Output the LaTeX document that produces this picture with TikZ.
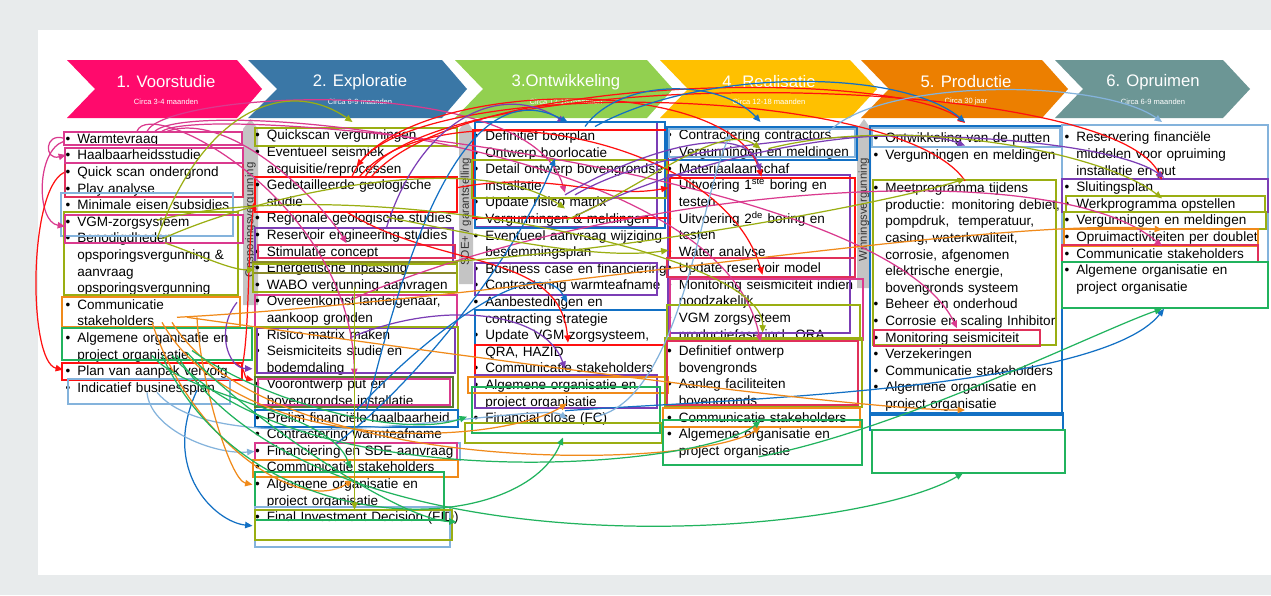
\documentclass[tikz,border=0pt]{standalone}
\usepackage{fontspec}
\setmainfont{Liberation Sans}
\usetikzlibrary{arrows.meta,calc}
\definecolor{bgout}{HTML}{E8EBEC}
\definecolor{hp}{HTML}{FF0A6C}
\definecolor{hb}{HTML}{3A77A6}
\definecolor{hg}{HTML}{92D050}
\definecolor{hy}{HTML}{FFC000}
\definecolor{ho}{HTML}{EC7F00}
\definecolor{ht}{HTML}{6C9695}
\definecolor{barg}{HTML}{C4C4C4}
\definecolor{mag}{HTML}{DA3A8E}
\definecolor{olv}{HTML}{9AAE12}
\definecolor{rd}{HTML}{FF1010}
\definecolor{pur}{HTML}{7B3DB5}
\definecolor{blu}{HTML}{1270C4}
\definecolor{lbl}{HTML}{84B3DC}
\definecolor{org}{HTML}{F08A1A}
\definecolor{grn}{HTML}{21B35E}
\definecolor{crm}{HTML}{E0305A}
\definecolor{dol}{HTML}{8A8A2A}
\definecolor{dgr}{HTML}{557A2F}
\newcommand\itf{\fontsize{7.7pt}{9.45pt}\selectfont}
\newcommand\bul{\noindent\strut\llap{\textbullet\hspace{0.14cm}}}
\begin{document}
\begin{tikzpicture}[x=0.02cm,y=-0.02cm,
  item/.style={anchor=north west,inner sep=0pt,text width=5cm,align=left,font=\itf,text=black},
  htitle/.style={text=white,font=\fontsize{9.5pt}{11pt}\selectfont,inner sep=0pt},
  hsub/.style={text=white,font=\fontsize{4.3pt}{5pt}\selectfont,inner sep=0pt},
  vtext/.style={rotate=90,text=black!80,font=\fontsize{6.5pt}{7pt}\selectfont,inner sep=0pt},
  thin/.style={line width=0.6pt},
  thk/.style={line width=1.4pt},
  arr/.style={-{Triangle[length=4.2pt,width=3.6pt]},line width=0.7pt}]
\useasboundingbox (0,0) rectangle (1271,595);
\fill[bgout] (0,0) rectangle (1271,595);
\fill[white] (38,30) rectangle (1271,575);
% headers
\fill[hp] (67,60) -- (237,60) -- (262,89) -- (237,118) -- (67,118) -- (95,89) -- cycle;
\fill[hb] (248,60) -- (442,60) -- (467,89) -- (442,118) -- (248,118) -- (277,89) -- cycle;
\fill[hg] (455,60) -- (647,60) -- (673,89) -- (647,118) -- (455,118) -- (483,89) -- cycle;
\fill[hy] (660,60) -- (850,60) -- (877,89) -- (850,118) -- (660,118) -- (688,89) -- cycle;
\fill[ho] (861,60) -- (1042,60) -- (1068,89) -- (1042,118) -- (861,118) -- (889,89) -- cycle;
\fill[ht] (1055,60) -- (1223,60) -- (1250,89) -- (1223,118) -- (1055,118) -- (1083,89) -- cycle;
\node[htitle] (h1) at (166,82) {1. Voorstudie};
\node[hsub] (s1) at (166,102) {Circa 3-4 maanden};
\node[htitle] (h2) at (360,82) {2. Exploratie};
\node[hsub] (s2) at (360,102) {Circa 6-9 maanden};
\node[htitle] (h3) at (566,82) {3.Ontwikkeling};
\node[hsub] (s3) at (566,102) {Circa 12-18 maanden};
\node[htitle] (h4) at (769,82) {4. Realisatie};
\node[hsub] (s4) at (769,102) {Circa 12-18 maanden};
\node[htitle] (h5) at (966,82) {5. Productie};
\node[hsub] (s5) at (966,102) {Circa 30 jaar};
\node[htitle] (h6) at (1153,82) {6. Opruimen};
\node[hsub] (s6) at (1153,102) {Circa 6-9 maanden};
% gray bars
\fill[barg] (243,129) -- (250.5,119) -- (258,129) -- (258,305) -- (243,305) -- cycle;
\fill[barg] (459,130) -- (466,120) -- (473,130) -- (473,284) -- (459,284) -- cycle;
\fill[barg] (857,129) -- (864,119) -- (871,129) -- (871,288) -- (857,288) -- cycle;
\node[vtext] (v1) at (250.5,220) {Opsporingsvergunning};
\node[vtext] (v2) at (466,212) {SDE+ / garantstelling};
\node[vtext] (v3) at (864,210) {Winningsvergunning};
% column 1
\node[item] (c1a) at (77,131.3) {\bul Warmtevraag};
\node[item] (c1b) at (77,147.9) {\bul Haalbaarheidsstudie};
\node[item] (c1c) at (77,164.5) {\bul Quick scan ondergrond};
\node[item] (c1d) at (77,181.1) {\bul Play analyse};
\node[item] (c1e) at (77,197.7) {\bul Minimale eisen subsidies};
\node[item] (c1f) at (77,214.3) {\bul VGM-zorgsysteem};
\node[item] (c1g) at (77,230.9) {\bul Benodigdheden\newline opsporingsvergunning \&\newline aanvraag\newline opsporingsvergunning};
\node[item] (c1h) at (77,297.3) {\bul Communicatie\newline stakeholders};
\node[item] (c1i) at (77,330.5) {\bul Algemene organisatie en\newline project organisatie};
\node[item] (c1j) at (77,363.7) {\bul Plan van aanpak vervolg};
\node[item] (c1k) at (77,380.3) {\bul Indicatief businessplan};
% column 2
\node[item] (c2a) at (266.5,128) {\bul Quickscan vergunningen};
\node[item] (c2b) at (266.5,144.6) {\bul Eventueel seismiek\newline acquisitie/reprocessen};
\node[item] (c2c) at (266.5,177.8) {\bul Gedetailleerde geologische\newline studie};
\node[item] (c2d) at (266.5,211) {\bul Regionale geologische studies};
\node[item] (c2e) at (266.5,227.6) {\bul Reservoir engineering studies};
\node[item] (c2f) at (266.5,244.2) {\bul Stimulatie concept};
\node[item] (c2g) at (266.5,260.8) {\bul Energetische inpassing};
\node[item] (c2h) at (266.5,277.4) {\bul WABO vergunning aanvragen};
\node[item] (c2i) at (266.5,294) {\bul Overeenkomst landeigenaar,\newline aankoop gronden};
\node[item] (c2j) at (266.5,327.2) {\bul Risico matrix maken};
\node[item] (c2k) at (266.5,343.8) {\bul Seismiciteits studie en\newline bodemdaling};
\node[item] (c2l) at (266.5,377) {\bul Voorontwerp put en\newline bovengrondse installatie};
\node[item] (c2m) at (266.5,410.2) {\bul Prelim financiële haalbaarheid};
\node[item] (c2n) at (266.5,426.8) {\bul Contractering warmteafname};
\node[item] (c2o) at (266.5,443.4) {\bul Financiering en SDE aanvraag};
\node[item] (c2p) at (266.5,460) {\bul Communicatie stakeholders};
\node[item] (c2q) at (266.5,476.6) {\bul Algemene organisatie en\newline project organisatie};
\node[item] (c2r) at (266.5,509.8) {\bul Final Investment Decision (FID)};
% column 3
\node[item] (c3a) at (485,128.5) {\bul Definitief boorplan};
\node[item] (c3b) at (485,145.1) {\bul Ontwerp boorlocatie};
\node[item] (c3c) at (485,161.7) {\bul Detail ontwerp bovengrondse\newline installatie};
\node[item] (c3d) at (485,194.9) {\bul Update risico matrix};
\node[item] (c3e) at (485,211.5) {\bul Vergunningen \& meldingen};
\node[item] (c3f) at (485,228.1) {\bul Eventueel aanvraag wijziging\newline bestemmingsplan};
\node[item] (c3g) at (485,261.3) {\bul Business case en financiering};
\node[item] (c3h) at (485,277.9) {\bul Contractering warmteafname};
\node[item] (c3i) at (485,294.5) {\bul Aanbestedingen en\newline contracting strategie};
\node[item] (c3j) at (485,327.7) {\bul Update VGM zorgsysteem,\newline QRA, HAZID};
\node[item] (c3k) at (485,360.9) {\bul Communicatie stakeholders};
\node[item] (c3l) at (485,377.5) {\bul Algemene organisatie en\newline project organisatie};
\node[item] (c3m) at (485,410.7) {\bul Financial close (FC)};
% column 4
\node[item] (c4a) at (678.5,128) {\bul Contractering contractors};
\node[item] (c4b) at (678.5,144.6) {\bul Vergunningen en meldingen};
\node[item] (c4c) at (678.5,161.2) {\bul Materiaalaanschaf};
\node[item] (c4d) at (678.5,177.8) {\bul Uitvoering 1\textsuperscript{ste} boring en\newline testen};
\node[item] (c4e) at (678.5,211) {\bul Uitvoering 2\textsuperscript{de} boring en\newline testen};
\node[item] (c4f) at (678.5,244.2) {\bul Water analyse};
\node[item] (c4g) at (678.5,260.8) {\bul Update reservoir model};
\node[item] (c4h) at (678.5,277.4) {\bul Monitoring seismiciteit indien\newline noodzakelijk};
\node[item] (c4i) at (678.5,310.6) {\bul VGM zorgsysteem\newline productiefase incl. QRA};
\node[item] (c4j) at (678.5,343.8) {\bul Definitief ontwerp\newline bovengronds};
\node[item] (c4k) at (678.5,377) {\bul Aanleg faciliteiten\newline bovengronds};
\node[item] (c4l) at (678.5,410.2) {\bul Communicatie stakeholders};
\node[item] (c4m) at (678.5,426.8) {\bul Algemene organisatie en\newline project organisatie};
% column 5
\node[item] (c5a) at (885,131) {\bul Ontwikkeling van de putten};
\node[item] (c5b) at (885,147.6) {\bul Vergunningen en meldingen};
\node[item] (c5c) at (885,180.8) {\bul Meetprogramma tijdens\newline productie: monitoring debiet,\newline pompdruk,\ \ temperatuur,\newline casing, waterkwaliteit,\newline corrosie, afgenomen\newline elektrische energie,\newline bovengronds systeem};
\node[item] (c5d) at (885,297) {\bul Beheer en onderhoud};
\node[item] (c5e) at (885,313.6) {\bul Corrosie en scaling Inhibitor};
\node[item] (c5f) at (885,330.2) {\bul Monitoring seismiciteit};
\node[item] (c5g) at (885,346.8) {\bul Verzekeringen};
\node[item] (c5h) at (885,363.4) {\bul Communicatie stakeholders};
\node[item] (c5i) at (885,380) {\bul Algemene organisatie en\newline project organisatie};
% column 6
\node[item] (c6a) at (1076,130) {\bul Reservering financiële\newline middelen voor opruiming\newline installatie en put};
\node[item] (c6b) at (1076,179.8) {\bul Sluitingsplan};
\node[item] (c6c) at (1076,196.4) {\bul Werkprogramma opstellen};
\node[item] (c6d) at (1076,213) {\bul Vergunningen en meldingen};
\node[item] (c6e) at (1076,229.6) {\bul Opruimactiviteiten per doublet};
\node[item] (c6f) at (1076,246.2) {\bul Communicatie stakeholders};
\node[item] (c6g) at (1076,262.8) {\bul Algemene organisatie en\newline project organisatie};
% highlight boxes column 1
\draw[thk,mag] (64,132) rectangle (242,145);
\draw[thin,crm] (65,148) rectangle (243,197);
\draw[thin,mag] (65,148) rectangle (243,163);
\draw[thin,lbl] (61,193) rectangle (233,236);
\draw[thk,olv] (64,212) rectangle (238,295);
\draw[thin,mag] (65,215) rectangle (243,243);
\draw[thk,org] (62,297) rectangle (240,327);
\draw[thk,grn] (62,328) rectangle (252,360);
\draw[thin,rd] (62,363) rectangle (242,380);
\draw[thin,lbl] (68,379) rectangle (230,404);
% column 2
\draw[thin,olv] (255,128) rectangle (457,146);
\draw[thk,rd] (255,177) rectangle (457,212);
\draw[thk,pur] (255,228) rectangle (453,262);
\draw[thin,crm] (258,245) rectangle (455,258);
\draw[thin,dol] (253,262) rectangle (457,273);
\draw[thin,olv] (253,264) rectangle (457,292);
\draw[thin,mag] (255,295) rectangle (457,327);
\draw[thin,pur] (257,328) rectangle (455,373);
\draw[thin,olv] (255,327) rectangle (458,410);
\draw[thk,dgr] (255,377) rectangle (453,407);
\draw[thin,mag] (258,379) rectangle (450,405);
\draw[thk,blu] (255,410) rectangle (458,427);
\draw[thin,lbl] (255,443) rectangle (460,460);
\draw[thin,mag] (255,443) rectangle (457,460);
\draw[thin,org] (253,460) rectangle (458,477);
\draw[thin,grn] (255,472) rectangle (444,520);
\draw[thin,lbl] (255,507) rectangle (450,547);
\draw[thk,olv] (255,510) rectangle (452,540);
% column 3
\draw[thin,pur] (475,122) rectangle (657,227);
\draw[thin,blu] (475,122) rectangle (665,228);
\draw[thin,rd] (473,130) rectangle (668,218);
\draw[thk,olv] (472,160) rectangle (667,198);
\draw[thin,pur] (475,263) rectangle (657,295);
\draw[thin,blu] (475,310) rectangle (667,377);
\draw[thin,rd] (475,345) rectangle (665,377);
\draw[thin,pur] (475,375) rectangle (657,408);
\draw[thin,org] (468,377) rectangle (668,393);
\draw[thin,grn] (472,387) rectangle (660,433);
\draw[thin,olv] (465,423) rectangle (662,443);
% column 4
\draw[thk,blu] (667,127) rectangle (857,160);
\draw[thin,lbl] (669,129) rectangle (855,157);
\draw[thin,pur] (668,175) rectangle (850,333);
\draw[thin,rd] (670,178) rectangle (855,258);
\draw[thin,crm] (667,258) rectangle (855,277);
\draw[thin,mag] (670,279) rectangle (863,340);
\draw[thin,olv] (667,305) rectangle (860,340);
\draw[thk,olv] (665,338) rectangle (862,407);
\draw[thin,crm] (667,341) rectangle (858,405);
\draw[thin,org] (663,408) rectangle (860,427);
\draw[thin,grn] (663,420) rectangle (862,465);
% column 5
\draw[thin,blu] (870,126) rectangle (1062,415);
\draw[thin,lbl] (872,128) rectangle (1060,147);
\draw[thin,olv] (873,180) rectangle (1056,345);
\draw[thin,crm] (874,330) rectangle (1040,346);
\draw[thin,blu] (870,413) rectangle (1063,430);
\draw[thin,grn] (872,430) rectangle (1065,473);
% column 6
\draw[thin,lbl] (1062,125) rectangle (1268,308);
\draw[thin,pur] (1062,179) rectangle (1268,212);
\draw[thin,olv] (1066,196) rectangle (1265,212);
\draw[thin,olv] (1064,212) rectangle (1266,229);
\draw[thk,org] (1064,229) rectangle (1258,246);
\draw[thin,crm] (1062,245) rectangle (1258,262);
\draw[thin,grn] (1062,262) rectangle (1268,308);
% magenta connectors
\draw[arr,mag] ($(c1a.north west)+(-13,7)$) .. controls (44,132) and (44,161) .. ($(c1b.north west)+(-11,7)$);
\draw[arr,mag] ($(c1a.north west)+(-13,10)$) .. controls (36,150) and (36,222) .. ($(c1f.north west)+(-12,12)$);
\draw[arr,mag] ($(c1a.north west)+(70,0)$) .. controls (165,92) and (530,70) .. ($(c3c.north west)+(80,31)$);
\draw[arr,mag] ($(c1a.north west)+(78,0)$) .. controls (190,96) and (720,140) .. ($(c4j.north west)+(82,-2)$);
\draw[arr,mag] ($(c1a.north west)+(85,0)$) .. controls (210,100) and (880,170) .. ($(c5f.north west)+(72,-2)$);
\draw[arr,mag] ($(c1a.north west)+(60,0)$) .. controls (150,95) and (350,200) .. ($(c2l.north west)+(88,-1)$);
\draw[arr,mag] ($(c1a.north west)+(90,0)$) .. controls (230,110) and (320,200) .. ($(c2f.north west)+(80,-1)$);
\draw[arr,mag] ($(c2i.north west)+(84,6)$) .. controls (600,190) and (1050,150) .. ($(c6f.north west)+(86,0)$);
% red connectors
\draw[arr,rd] ($(c1c.north west)+(-13,8)$) .. controls (28,190) and (28,362) .. ($(c1j.north west)+(-14,6)$);
\draw[arr,rd] ($(c1j.north west)+(165,4)$) .. controls (250,330) and (247,250) .. ($(c2c.north west)+(-12,24)$);
\draw[arr,rd] ($(c1j.north west)+(158,0)$) .. controls (246,366) and (244,378) .. ($(c2l.north west)+(-13,3)$);
\draw[arr,rd] ($(c2c.north west)+(85,0)$) .. controls (390,78) and (730,70) .. ($(c4d.north west)+(83,-1)$);
\draw[arr,rd] ($(c2c.north west)+(92,0)$) .. controls (430,88) and (720,130) .. ($(c4g.north west)+(84,14)$);
\draw[arr,rd] ($(c2c.north west)+(80,34)$) .. controls (440,270) and (560,250) .. ($(c3j.north west)+(83,15)$);
\draw[arr,rd] ($(c2c.north west)+(98,0)$) .. controls (430,60) and (1110,70) .. ($(c6b.north west)+(86,0)$);
\draw[arr,rd] ($(c5c.north west)+(80,0)$) .. controls (900,85) and (430,75) .. ($(c2b.north west)+(90,22)$);
\draw[arr,rd] ($(c2c.north west)+(104,0)$) .. controls (460,70) and (900,70) .. ($(c5a.north west)+(80,-8)$);
\draw[arr,rd] ($(c2c.north west)+(190,10)$) .. controls (550,170) and (600,200) .. ($(c4d.north west)+(-10,10)$);
% purple connectors
\draw[arr,pur] ($(c2e.north west)+(120,0)$) .. controls (420,120) and (500,80) .. ($(c3a.north west)+(80,-6)$);
\draw[arr,pur] ($(c3d.north west)+(80,0)$) .. controls (640,150) and (745,120) .. ($(c4c.north west)+(82,10)$);
\draw[arr,pur] ($(c2j.north west)+(85,10)$) .. controls (440,300) and (545,310) .. ($(c3k.north west)+(80,8)$);
\draw[arr,pur] ($(c1h.north west)+(160,5)$) .. controls (215,330) and (228,368) .. ($(c2k.north west)+(-14,25)$);
\draw[arr,pur] ($(c3d.north west)+(90,0)$) .. controls (720,110) and (1100,130) .. ($(c6b.north west)+(88,-2)$);
\draw[arr,pur] ($(c3e.north west)+(90,5)$) .. controls (700,150) and (900,120) .. ($(c5b.north west)+(80,-2)$);
% blue connectors
\draw[arr,blu] ($(c2m.north west)+(100,0)$) .. controls (410,230) and (470,70) .. ($(c3a.north west)+(83,-6)$);
\draw[arr,blu] ($(c3a.north west)+(100,-2)$) .. controls (620,78) and (720,78) .. ($(c4a.north west)+(82,-6)$);
\draw[arr,blu] ($(c3a.north west)+(110,-2)$) .. controls (700,68) and (900,68) .. ($(c5a.north west)+(80,-9)$);
\draw[arr,blu] ($(c1k.north west)+(120,10)$) .. controls (160,470) and (215,522) .. ($(c2r.north west)+(-14,16)$);
\draw[arr,blu] ($(c2m.north west)+(90,0)$) .. controls (430,330) and (540,250) .. ($(c3i.north west)+(82,8)$);
\draw[arr,blu] ($(c2o.north west)+(70,0)$) .. controls (420,380) and (520,250) .. ($(c3c.north west)+(70,-3)$);
\draw[arr,blu] ($(c3m.north west)+(80,0)$) .. controls (720,400) and (1100,390) .. ($(c6g.north west)+(88,46)$);
% light blue connectors
\draw[arr,lbl] ($(c4a.north west)+(150,4)$) .. controls (880,78) and (1100,78) .. ($(c6a.north west)+(86,-8)$);
\draw[arr,lbl] ($(c1k.north west)+(70,12)$) .. controls (150,430) and (215,455) .. ($(c2o.north west)+(-12,8)$);
\draw[arr,lbl] ($(c1k.north west)+(80,12)$) .. controls (220,470) and (540,400) .. ($(c3m.north west)+(82,8)$);
\draw[arr,lbl] ($(c3m.north west)+(110,6)$) .. controls (680,400) and (700,200) .. ($(c4a.north west)+(52,6)$);
% orange connectors
\draw[arr,org] ($(c1h.north west)+(75,25)$) .. controls (190,440) and (300,515) .. ($(c2p.north west)+(86,20)$);
\draw[arr,org] ($(c1h.north west)+(85,25)$) .. controls (240,460) and (500,445) .. ($(c3l.north west)+(82,26)$);
\draw[arr,org] ($(c1h.north west)+(95,25)$) .. controls (270,480) and (700,470) .. ($(c4m.north west)+(82,0)$);
\draw[arr,org] ($(c1h.north west)+(100,20)$) .. controls (500,300) and (1000,215) .. ($(c6e.north west)+(86,0)$);
\draw[arr,org] ($(c1h.north west)+(110,20)$) .. controls (420,350) and (850,410) .. ($(c5i.north west)+(80,30)$);
\draw[arr,org] ($(c1h.north west)+(120,20)$) .. controls (200,380) and (230,480) .. ($(c2q.north west)+(-14,8)$);
% green connectors
\draw[arr,grn] ($(c1i.north west)+(75,25)$) .. controls (190,400) and (330,410) .. ($(c2q.north west)+(84,-8)$);
\draw[arr,grn] ($(c1i.north west)+(85,25)$) .. controls (250,545) and (520,540) .. ($(c3l.north west)+(78,60)$);
\draw[arr,grn] ($(c1i.north west)+(95,25)$) .. controls (300,500) and (700,470) .. ($(c4m.north west)+(82,-6)$);
\draw[arr,grn] ($(c1i.north west)+(100,25)$) .. controls (320,580) and (850,540) .. ($(c5i.north west)+(78,93)$);
\draw[arr,grn] ($(c1i.north west)+(110,22)$) .. controls (250,420) and (400,520) .. ($(c2r.north west)+(190,12)$);
\draw[arr,grn] ($(c1i.north west)+(115,20)$) .. controls (260,400) and (400,440) .. ($(c3m.north west)+(-18,6)$);
\draw[arr,grn] ($(c4m.north west)+(80,30)$) .. controls (900,430) and (1100,330) .. ($(c6g.north west)+(86,46)$);
% olive connectors
\draw[arr,olv] ($(c1g.north west)+(80,8)$) .. controls (205,105) and (290,78) .. ($(c2a.north west)+(86,-6)$);
\draw[arr,olv] ($(c1g.north west)+(85,8)$) .. controls (270,190) and (480,150) .. ($(c3e.north west)+(80,-3)$);
\draw[arr,olv] ($(c3e.north west)+(82,8)$) .. controls (640,190) and (720,120) .. ($(c4b.north west)+(82,4)$);
\draw[arr,olv] ($(c2h.north west)+(88,10)$) -- ($(c2r.north west)+(88,0)$);
\draw[arr,olv] ($(c2g.north west)+(100,5)$) .. controls (600,260) and (900,200) .. ($(c5c.north west)+(80,-2)$);
\draw[arr,olv] ($(c2d.north west)+(120,6)$) .. controls (500,240) and (600,260) .. ($(c4f.north west)+(-10,6)$);
\draw[arr,olv] ($(c4b.north west)+(90,4)$) .. controls (900,115) and (1100,150) .. ($(c6c.north west)+(86,2)$);
\draw[arr,olv] ($(c1f.north west)+(80,6)$) .. controls (350,170) and (765,250) .. ($(c4i.north west)+(84,22)$);
\draw[arr,olv] ($(c1g.north west)+(88,12)$) .. controls (200,255) and (230,270) .. ($(c2g.north west)+(-12,9)$);
\end{tikzpicture}
\end{document}
